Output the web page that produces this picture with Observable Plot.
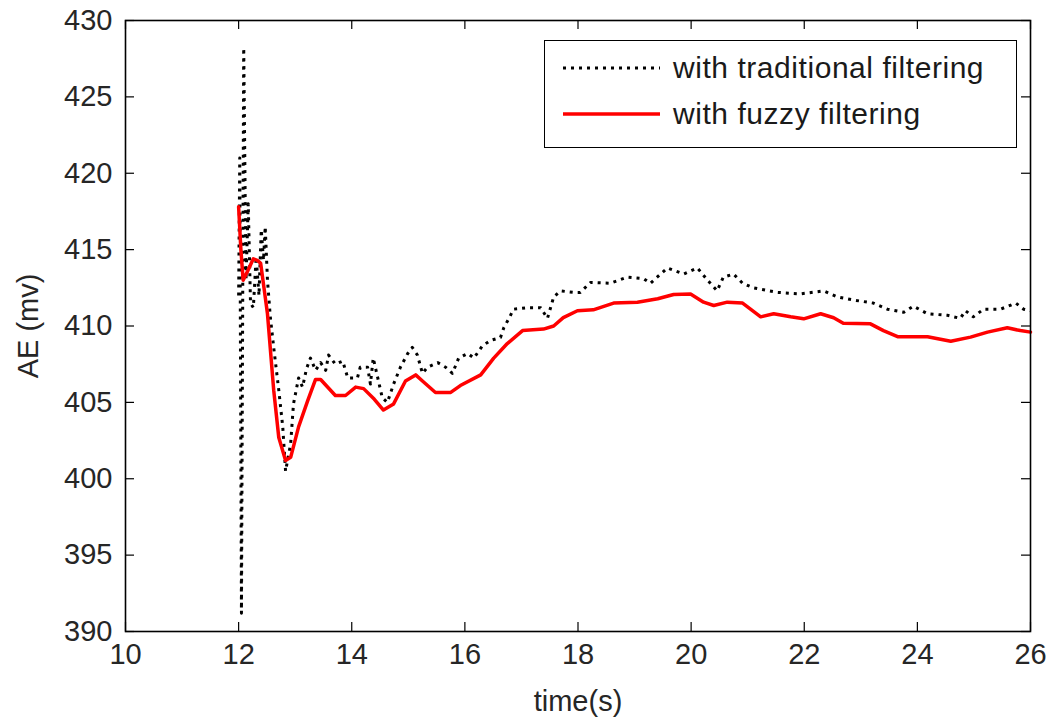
<!DOCTYPE html>
<html>
<head>
<meta charset="utf-8">
<script src="https://cdn.jsdelivr.net/npm/d3@7"></script>
<script src="https://cdn.jsdelivr.net/npm/@observablehq/plot@0.6"></script>
<style>
  html, body { margin: 0; padding: 0; background: #fff; }
  #wrap { position: relative; width: 1054px; height: 719px; font-family: "Liberation Sans", Arial, sans-serif; }
  #legend { position: absolute; left: 544px; top: 40px; width: 471px; height: 106px; border: 1.5px solid #000; background: #fff; box-sizing: content-box; }
  .row { position: absolute; left: 0; height: 40px; display: flex; align-items: center; }
  .row svg { margin-left: 18px; }
  .row span { margin-left: 13px; font-size: 30px; color: #1a1a1a; letter-spacing: 0.55px; }
</style>
</head>
<body>
<div id="wrap"></div>
<script>
// ---- data ----
const xTicks = [10, 12, 14, 16, 18, 20, 22, 24, 26];
const yTicks = [390, 395, 400, 405, 410, 415, 420, 425, 430];
const seriesNames = ["with traditional filtering", "with fuzzy filtering"];

const tradT = [12.00, 12.02, 12.05, 12.09, 12.13, 12.17, 12.21, 12.26, 12.31, 12.36, 12.40, 12.44, 12.47, 12.51, 12.56, 12.62, 12.71, 12.78, 12.83, 12.88, 12.92, 12.97, 13.06, 13.13, 13.20, 13.27, 13.36, 13.45, 13.54, 13.59, 13.71, 13.84, 13.93, 14.10, 14.15, 14.28, 14.33, 14.38, 14.46, 14.54, 14.63, 14.74, 14.86, 14.99, 15.07, 15.16, 15.25, 15.34, 15.52, 15.66, 15.78, 15.89, 16.05, 16.16, 16.31, 16.45, 16.63, 16.69, 16.78, 16.86, 17.11, 17.34, 17.46, 17.57, 17.69, 17.92, 18.04, 18.22, 18.57, 18.87, 19.16, 19.28, 19.58, 19.87, 20.11, 20.29, 20.46, 20.57, 20.75, 20.91, 21.10, 21.53, 21.93, 22.34, 22.59, 22.87, 23.22, 23.47, 23.76, 23.93, 24.18, 24.53, 24.76, 24.85, 24.99, 25.17, 25.47, 25.74, 25.88, 26.00];
const tradV = [412.0, 421.0, 391.2, 428.2, 413.0, 418.0, 411.5, 411.2, 414.5, 412.0, 416.3, 414.3, 416.5, 413.0, 410.6, 408.6, 405.8, 403.4, 400.5, 401.5, 402.3, 404.9, 406.6, 406.0, 407.2, 407.9, 407.1, 407.6, 407.1, 408.1, 407.5, 407.7, 406.6, 406.6, 407.3, 407.3, 406.2, 407.9, 406.6, 405.3, 405.0, 406.2, 407.3, 408.2, 408.6, 408.1, 406.9, 407.3, 407.6, 407.3, 406.9, 407.9, 408.2, 407.9, 408.7, 409.05, 409.25, 409.9, 410.5, 411.1, 411.2, 411.2, 410.5, 411.9, 412.3, 412.2, 412.2, 412.85, 412.8, 413.2, 413.1, 412.8, 413.8, 413.4, 413.8, 413.0, 412.3, 413.2, 413.4, 412.8, 412.5, 412.2, 412.1, 412.3, 411.9, 411.7, 411.5, 411.1, 410.9, 411.3, 410.8, 410.7, 410.5, 411.0, 410.6, 411.1, 411.1, 411.5, 411.1, 411.0];

const fuzzyT = [12.00, 12.04, 12.08, 12.16, 12.26, 12.33, 12.39, 12.51, 12.62, 12.71, 12.83, 12.92, 13.06, 13.22, 13.36, 13.45, 13.71, 13.89, 14.07, 14.21, 14.40, 14.56, 14.74, 14.95, 15.13, 15.25, 15.48, 15.75, 15.92, 16.28, 16.51, 16.75, 17.02, 17.39, 17.57, 17.74, 17.99, 18.27, 18.63, 19.05, 19.41, 19.69, 19.99, 20.22, 20.40, 20.64, 20.91, 21.23, 21.46, 21.76, 21.99, 22.29, 22.52, 22.69, 23.17, 23.40, 23.65, 24.18, 24.59, 24.94, 25.24, 25.59, 25.82, 26.00];
const fuzzyV = [417.8, 415.0, 413.0, 413.6, 414.4, 414.3, 414.1, 410.8, 405.8, 402.7, 401.2, 401.4, 403.4, 405.1, 406.5, 406.5, 405.45, 405.45, 406.0, 405.9, 405.2, 404.5, 404.9, 406.4, 406.8, 406.4, 405.65, 405.65, 406.1, 406.8, 407.9, 408.85, 409.7, 409.8, 410.0, 410.55, 411.0, 411.06, 411.5, 411.56, 411.78, 412.06, 412.1, 411.56, 411.34, 411.56, 411.5, 410.6, 410.8, 410.6, 410.47, 410.8, 410.54, 410.18, 410.14, 409.7, 409.3, 409.3, 409.0, 409.27, 409.6, 409.88, 409.7, 409.6];

// ---- build ----
const trad = tradT.map((t, i) => ({t, v: tradV[i]}));
const fuzzy = fuzzyT.map((t, i) => ({t, v: fuzzyV[i]}));

const W = 1054, H = 719;
const mL = 125, mR = 24, mT = 20, mB = 88;
const plotH = H - mT - mB, plotW = W - mL - mR;
const tickLen = 9;
const font = "'Liberation Sans', Arial, sans-serif";

const chart = Plot.plot({
  width: W, height: H,
  marginLeft: mL, marginRight: mR, marginTop: mT, marginBottom: mB,
  style: {fontFamily: font, fontSize: "29px", color: "#262626", background: "#fff"},
  x: {domain: [10, 26]},
  y: {domain: [390, 430]},
  marks: [
    Plot.line(trad, {x: "t", y: "v", stroke: "#000", strokeWidth: 3, strokeDasharray: "3,5", strokeLinecap: "butt"}),
    Plot.line(fuzzy, {x: "t", y: "v", stroke: "#ff0000", strokeWidth: 3.5}),
    Plot.tickX(xTicks, {x: d => d, insetTop: plotH - tickLen, stroke: "#000", strokeWidth: 1.2}),
    Plot.tickX(xTicks, {x: d => d, insetBottom: plotH - tickLen, stroke: "#000", strokeWidth: 1.2}),
    Plot.tickY(yTicks, {y: d => d, insetRight: plotW - tickLen, stroke: "#000", strokeWidth: 1.2}),
    Plot.tickY(yTicks, {y: d => d, insetLeft: plotW - tickLen, stroke: "#000", strokeWidth: 1.2}),
    Plot.axisX(xTicks, {tickSize: 0, tickPadding: 12, fontSize: 29, label: "time(s)", labelAnchor: "center", labelOffset: 79, labelArrow: "none"}),
    Plot.axisY(yTicks, {tickSize: 0, tickPadding: 13, fontSize: 29, label: "AE (mv)", labelAnchor: "center", labelOffset: 108, labelArrow: "none"}),
    Plot.frame({stroke: "#000", strokeWidth: 1.6})
  ]
});

const wrap = document.getElementById("wrap");
wrap.appendChild(chart);

// legend
const legend = document.createElement("div");
legend.id = "legend";
const styles = [
  {stroke: "#000", width: 3, dash: "3,5"},
  {stroke: "#ff0000", width: 3.5, dash: null}
];
seriesNames.forEach((name, i) => {
  const row = document.createElement("div");
  row.className = "row";
  row.style.top = (i === 0 ? 7 : 53) + "px";
  const s = styles[i];
  row.innerHTML = `<svg width="97" height="10"><line x1="0" x2="97" y1="5" y2="5" stroke="${s.stroke}" stroke-width="${s.width}" ${s.dash ? `stroke-dasharray="${s.dash}"` : ""}/></svg><span>${name}</span>`;
  legend.appendChild(row);
});
wrap.appendChild(legend);
</script>
</body>
</html>
